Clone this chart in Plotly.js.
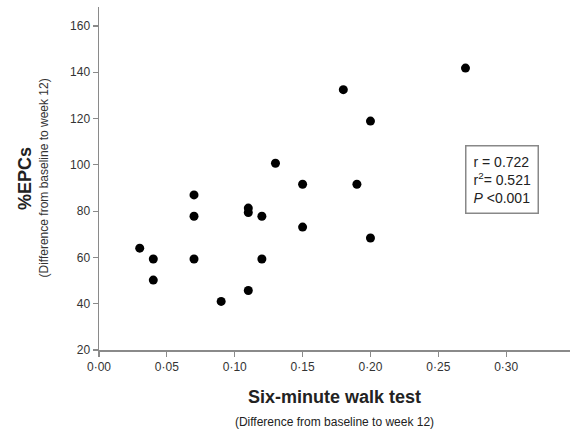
<!DOCTYPE html>
<html>
<head>
<meta charset="utf-8">
<script src="https://cdn.plot.ly/plotly-3.0.1.min.js"></script>
<style>html,body{margin:0;padding:0;background:#fff;}#chart{width:570px;height:429px;}</style>
</head>
<body>
<div id="chart"></div>
<script>
// Six-minute walk test change (x) vs %EPCs change (y)
const walkTest = [0.03, 0.04, 0.04, 0.07, 0.07, 0.07, 0.09, 0.11, 0.11, 0.11, 0.12, 0.12, 0.13, 0.15, 0.15, 0.18, 0.19, 0.20, 0.20, 0.27];
const epcs     = [64, 59.3, 50.2, 87, 77.8, 59.3, 41, 81.3, 79.4, 45.7, 77.8, 59.3, 100.7, 91.6, 73.1, 132.5, 91.6, 118.9, 68.4, 141.8];
const xTickVals = [0, 0.05, 0.10, 0.15, 0.20, 0.25, 0.30];
const xTickText = ['0·00', '0·05', '0·10', '0·15', '0·20', '0·25', '0·30'];
const yTickVals = [20, 40, 60, 80, 100, 120, 140, 160];
const statsText = 'r = 0.722<br>r<sup>2</sup>= 0.521<br><i>P</i> &lt;0.001';

const font = 'Liberation Sans, Arial, sans-serif';
const axisColor = '#8a8a8a';

const trace = {
  x: walkTest, y: epcs, type: 'scatter', mode: 'markers',
  marker: {color: '#000', size: 9},
  hoverinfo: 'x+y'
};

const layout = {
  width: 570, height: 429,
  margin: {l: 99, r: 0, t: 7, b: 79},
  paper_bgcolor: '#fff', plot_bgcolor: '#fff',
  showlegend: false,
  font: {family: font, color: '#333'},
  xaxis: {
    range: [0, 0.347], tickvals: xTickVals, ticktext: xTickText,
    showgrid: false, zeroline: false, showline: true, linecolor: axisColor, linewidth: 1.5,
    ticks: 'outside', ticklen: 5, tickcolor: axisColor, tickwidth: 1.2,
    tickfont: {size: 12, color: '#333', family: font},
    title: {text: '<b>Six-minute walk test</b><br><span style="font-size:12px">(Difference from baseline to week 12)</span>',
            font: {size: 18, color: '#222', family: font}, standoff: 21}
  },
  yaxis: {
    range: [20, 168.2], tickvals: yTickVals,
    showgrid: false, zeroline: false, showline: true, linecolor: axisColor, linewidth: 1.5,
    ticks: 'outside', ticklen: 5, tickcolor: axisColor, tickwidth: 1.2,
    tickfont: {size: 12, color: '#333', family: font},
    title: {text: '<b>%EPCs</b>', font: {size: 18, color: '#222', family: font}, standoff: 34}
  },
  annotations: [
    {xref: 'paper', yref: 'paper', x: 0, y: 0.5, xshift: -56, textangle: -90,
     text: '(Difference from baseline to week 12)', showarrow: false,
     font: {size: 12, color: '#333', family: font}, xanchor: 'center', yanchor: 'middle'},
    {xref: 'paper', yref: 'paper', x: 0.856, y: 0.496, xanchor: 'center', yanchor: 'middle',
     text: statsText, showarrow: false, align: 'left',
     font: {size: 14, color: '#222', family: font},
     bordercolor: '#888', borderwidth: 1.5, borderpad: 7, bgcolor: '#fff'}
  ]
};

Plotly.newPlot('chart', [trace], layout, {displayModeBar: false, staticPlot: true});
</script>
</body>
</html>
